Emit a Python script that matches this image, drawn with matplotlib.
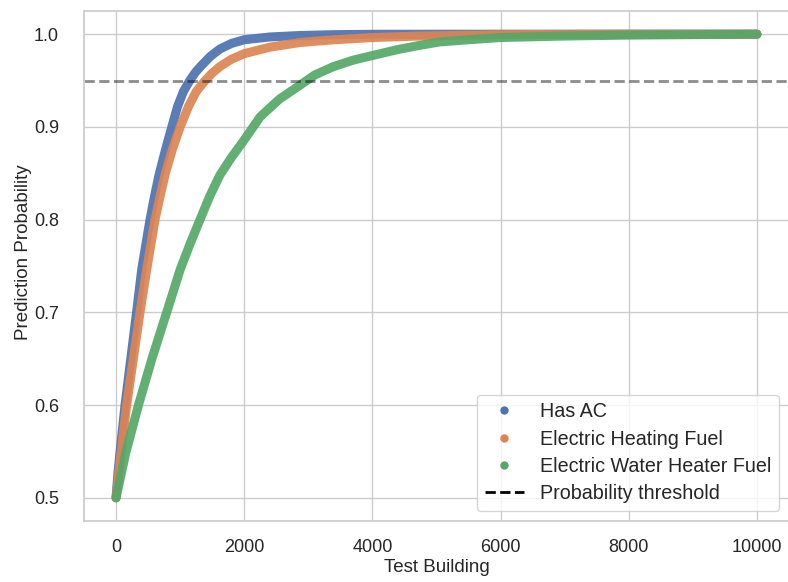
import numpy as np
import seaborn as sns
from matplotlib import pyplot as plt
from matplotlib.lines import Line2D

# sorted prediction probabilities per test building, read at sample positions
ac_x = [0, 30, 60, 140, 230, 320, 400, 530, 600, 670, 770, 870, 960, 1050, 1150,
        1240, 1330, 1470, 1620, 1800, 2000, 2400, 2870, 3400, 4000, 6000, 10000]
ac_p = [0.5, 0.527, 0.548, 0.6, 0.65, 0.7, 0.746, 0.8, 0.825, 0.848, 0.875, 0.9, 0.922, 0.938, 0.95,
        0.959, 0.966, 0.976, 0.984, 0.990, 0.994, 0.997, 0.9986, 0.9995, 0.9999, 1.0, 1.0]

heat_x = [0, 78, 166, 270, 374, 478, 608, 690, 770, 880, 1000, 1130, 1250, 1390, 1500,
          1620, 1800, 2000, 2400, 2870, 3400, 4000, 4740, 6000, 8000, 10000]
heat_p = [0.5, 0.548, 0.6, 0.65, 0.7, 0.746, 0.8, 0.826, 0.85, 0.876, 0.9, 0.922, 0.938, 0.95, 0.958,
          0.965, 0.973, 0.979, 0.986, 0.991, 0.994, 0.9964, 0.998, 0.9995, 1.0, 1.0]

water_x = [0, 150, 350, 560, 790, 1000, 1150, 1310, 1460, 1620, 1800, 2000, 2250, 2550, 2870,
           3100, 3390, 3700, 4000, 4400, 4740, 5055, 5500, 6000, 7000, 8000, 10000]
water_p = [0.5, 0.548, 0.6, 0.65, 0.7, 0.746, 0.773, 0.8, 0.825, 0.848, 0.867, 0.886, 0.911, 0.930, 0.945,
           0.956, 0.965, 0.972, 0.977, 0.9835, 0.988, 0.9917, 0.994, 0.9964, 0.998, 0.999, 1.0]

labels = ["Has AC", "Electric Heating Fuel", "Electric Water Heater Fuel"]
threshold = 0.95

sns.set_theme(style="whitegrid")
plt.rcParams['font.family'] = ['Liberation Sans', 'DejaVu Sans']

colors = sns.color_palette("deep")
fig = plt.figure(figsize=(7.88, 5.82), dpi=100)
ax = fig.add_axes([84/788, 61/582, 705/788, 510/582])

for xs, ps, c in zip([ac_x, heat_x, water_x], [ac_p, heat_p, water_p], colors[:3]):
    ax.plot(xs, ps, color=c, lw=6.5, alpha=0.92, solid_capstyle='round', solid_joinstyle='round')

ax.axhline(threshold, color='black', linestyle='--', lw=2, alpha=0.45)

ax.set_xlim(-500, 10500)
ax.set_ylim(0.475, 1.025)
ax.set_xticks([0, 2000, 4000, 6000, 8000, 10000])
ax.set_yticks([0.5, 0.6, 0.7, 0.8, 0.9, 1.0])
ax.tick_params(axis='x', labelsize=13, pad=7)
ax.tick_params(axis='y', labelsize=13, pad=12)
ax.set_xlabel("Test Building", fontsize=13.5, labelpad=2)
ax.set_ylabel("Prediction Probability", fontsize=13.5)
ax.yaxis.set_label_coords(-0.074, 0.527)

handles = [Line2D([], [], marker='o', linestyle='none', color=c, markersize=5) for c in colors[:3]]
handles.append(Line2D([], [], color='black', linestyle='--', lw=2))
ax.legend(handles, labels + ["Probability threshold"], loc='lower right', fontsize=14.2,
          labelspacing=0.42)

fig.savefig("out.png", dpi=100)
